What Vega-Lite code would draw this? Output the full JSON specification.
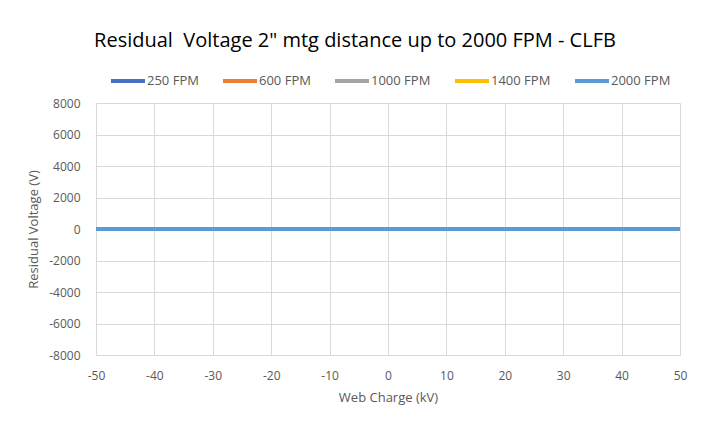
{
  "$schema": "https://vega.github.io/schema/vega-lite/v6.json",
  "width": 584,
  "height": 252,
  "autosize": {"type": "none"},
  "padding": {"left": 96, "top": 103, "right": 23, "bottom": 74},
  "background": "white",
  "config": {
    "font": "Open Sans",
    "view": {"stroke": null},
    "axis": {
      "labelColor": "#595959",
      "titleColor": "#595959",
      "labelFontSize": 12,
      "titleFontSize": 13,
      "titleFontWeight": "normal",
      "gridColor": "#d9d9d9",
      "domainColor": "#d9d9d9",
      "ticks": false,
      "labelFlush": false
    }
  },
  "title": {
    "text": "Residual\u00a0 Voltage 2\" mtg distance up to 2000 FPM - CLFB",
    "fontSize": 20,
    "fontWeight": "normal",
    "color": "#000000",
    "anchor": "middle",
    "dx": -33,
    "offset": 11
  },
  "data": {
    "values": [
      {"kv": -50, "v": 0, "s": "250 FPM"},
      {"kv": 0, "v": 0, "s": "250 FPM"},
      {"kv": 50, "v": 0, "s": "250 FPM"},
      {"kv": -50, "v": 0, "s": "600 FPM"},
      {"kv": 0, "v": 0, "s": "600 FPM"},
      {"kv": 50, "v": 0, "s": "600 FPM"},
      {"kv": -50, "v": 0, "s": "1000 FPM"},
      {"kv": 0, "v": 0, "s": "1000 FPM"},
      {"kv": 50, "v": 0, "s": "1000 FPM"},
      {"kv": -50, "v": 0, "s": "1400 FPM"},
      {"kv": 0, "v": 0, "s": "1400 FPM"},
      {"kv": 50, "v": 0, "s": "1400 FPM"},
      {"kv": -50, "v": 0, "s": "2000 FPM"},
      {"kv": 0, "v": 0, "s": "2000 FPM"},
      {"kv": 50, "v": 0, "s": "2000 FPM"}
    ]
  },
  "mark": {"type": "line", "strokeWidth": 4},
  "encoding": {
    "x": {
      "field": "kv",
      "type": "quantitative",
      "scale": {"domain": [-50, 50], "nice": false, "zero": false},
      "axis": {
        "values": [-50, -40, -30, -20, -10, 0, 10, 20, 30, 40, 50],
        "labelExpr": "toString(datum.value)",
        "title": "Web Charge (kV)",
        "labelPadding": 15,
        "titlePadding": 10,
        "domain": true
      }
    },
    "y": {
      "field": "v",
      "type": "quantitative",
      "scale": {"domain": [-8000, 8000], "nice": false},
      "axis": {
        "values": [-8000, -6000, -4000, -2000, 0, 2000, 4000, 6000, 8000],
        "labelExpr": "toString(datum.value)",
        "title": "Residual Voltage (V)",
        "labelPadding": 16,
        "titlePadding": 8,
        "domain": false
      }
    },
    "color": {
      "field": "s",
      "type": "nominal",
      "scale": {
        "domain": ["250 FPM", "600 FPM", "1000 FPM", "1400 FPM", "2000 FPM"],
        "range": ["#4472C4", "#ED7D31", "#A5A5A5", "#FFC000", "#5B9BD5"]
      },
      "legend": {
        "title": null,
        "orient": "none",
        "direction": "horizontal",
        "legendX": 13,
        "legendY": -41,
        "symbolType": "stroke",
        "symbolSize": 1156,
        "symbolStrokeWidth": 4,
        "labelFontSize": 13,
        "labelColor": "#595959",
        "labelOffset": 0,
        "columnPadding": 16
      }
    }
  }
}
